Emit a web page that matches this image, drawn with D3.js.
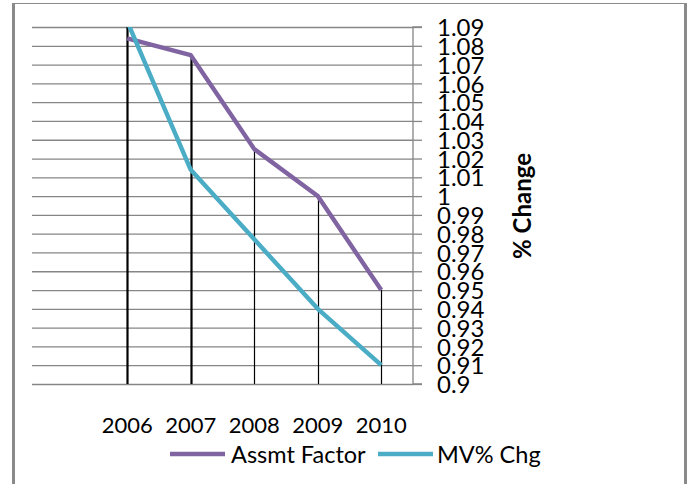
<!DOCTYPE html>
<html>
<head>
<meta charset="utf-8">
<script src="https://cdn.jsdelivr.net/npm/d3@7"></script>
<style>
  html, body { margin: 0; padding: 0; background: #ffffff; }
  svg { display: block; }
</style>
</head>
<body>
<svg id="chart" width="689" height="484"></svg>
<script>
// ---- data ----
const years = ["2006", "2007", "2008", "2009", "2010"];
const assmtFactor = [1.084, 1.075, 1.025, 1.0, 0.95];
const mvChange = [1.093, 1.014, 0.977, 0.940, 0.910];
const yTickValues = [0.9, 0.91, 0.92, 0.93, 0.94, 0.95, 0.96, 0.97, 0.98, 0.99, 1.0, 1.01, 1.02, 1.03, 1.04, 1.05, 1.06, 1.07, 1.08, 1.09];
const yTickLabels = ["0.9", "0.91", "0.92", "0.93", "0.94", "0.95", "0.96", "0.97", "0.98", "0.99", "1", "1.01", "1.02", "1.03", "1.04", "1.05", "1.06", "1.07", "1.08", "1.09"];
const seriesNames = ["Assmt Factor", "MV% Chg"];
const yAxisTitle = "% Change";

// ---- layout ----
const svg = d3.select("#chart");
const W = 689, H = 484;
const plot = { left: 32, right: 413, top: 27, bottom: 384 };
const colors = ["#8064A2", "#4BACC6"];
const font = "Lato, 'Open Sans', sans-serif";

// chart border (top, left, right only visible)
svg.append("rect").attr("x", 0).attr("y", 0).attr("width", W).attr("height", H).attr("fill", "#ffffff");
svg.append("line").attr("x1", 12).attr("x2", 686).attr("y1", 3.5).attr("y2", 3.5)
  .attr("stroke", "#8a8a8a").attr("stroke-width", 1);
svg.append("line").attr("x1", 13.5).attr("x2", 13.5).attr("y1", 3).attr("y2", H)
  .attr("stroke", "#8a8a8a").attr("stroke-width", 3);
svg.append("line").attr("x1", 685.5).attr("x2", 685.5).attr("y1", 3).attr("y2", H)
  .attr("stroke", "#8a8a8a").attr("stroke-width", 3);

// scales
const x = d3.scalePoint().domain([""].concat(years)).range([plot.left, plot.right]).padding(0.5);
const y = d3.scaleLinear().domain([0.9, 1.09]).range([plot.bottom, plot.top]);

// gridlines
const grid = svg.append("g").attr("transform", `translate(${plot.right},0)`)
  .call(d3.axisRight(y).tickValues(yTickValues).tickSize(-(plot.right - plot.left)).tickFormat(""));
grid.select(".domain").remove();
grid.selectAll(".tick line").attr("stroke", "#868686").attr("stroke-width", 1.3);

// right axis with ticks & labels
const labelMap = new Map(yTickValues.map((v, i) => [v, yTickLabels[i]]));
const yAxis = svg.append("g").attr("transform", `translate(${plot.right},0)`)
  .call(d3.axisRight(y).tickValues(yTickValues).tickSize(9).tickPadding(15)
    .tickFormat(d => labelMap.get(d)));
yAxis.select(".domain").attr("stroke", "#868686").attr("stroke-width", 1.3)
  .attr("d", `M9,${plot.top}H0V${plot.bottom}H9`);
yAxis.selectAll(".tick line").attr("stroke", "#868686").attr("stroke-width", 1.3);
yAxis.selectAll(".tick text").attr("fill", "#000").attr("font-family", font)
  .attr("font-size", 24).attr("dy", "0.36em");

// drop lines
const tops = years.map((yr, i) => Math.min(1.09, Math.max(assmtFactor[i], mvChange[i])));
svg.append("g").selectAll("line").data(years).join("line")
  .attr("x1", d => Math.round(x(d)) + 0.5).attr("x2", d => Math.round(x(d)) + 0.5)
  .attr("y1", (d, i) => y(tops[i])).attr("y2", y(0.9))
  .attr("stroke", "#000").attr("stroke-width", (d, i) => i < 2 ? 2.2 : 1.2);

// x labels
svg.append("g").selectAll("text").data(years).join("text")
  .attr("x", d => x(d)).attr("y", 433)
  .attr("text-anchor", "middle").attr("font-family", font).attr("font-size", 22)
  .attr("fill", "#000").text(d => d);

// series lines
svg.append("clipPath").attr("id", "plotclip").append("rect")
  .attr("x", plot.left).attr("y", plot.top).attr("width", plot.right - plot.left).attr("height", plot.bottom - plot.top);
const lineGen = d3.line().x((d, i) => x(years[i])).y(d => y(d));
const series = [assmtFactor, mvChange];
svg.append("g").attr("clip-path", "url(#plotclip)").selectAll("path").data(series).join("path")
  .attr("d", d => lineGen(d)).attr("fill", "none")
  .attr("stroke", (d, i) => colors[i]).attr("stroke-width", 4.4)
  .attr("stroke-linejoin", "round");

// y axis title
svg.append("text").attr("transform", "translate(531,206) rotate(-90)")
  .attr("text-anchor", "middle").attr("font-family", font).attr("font-weight", "bold")
  .attr("font-size", 24).attr("fill", "#000").text(yAxisTitle);

// legend
const legend = [
  { name: seriesNames[0], color: colors[0], x0: 170, tx: 231 },
  { name: seriesNames[1], color: colors[1], x0: 378, tx: 437 }
];
const lg = svg.append("g");
legend.forEach(l => {
  lg.append("line").attr("x1", l.x0).attr("x2", l.x0 + 55).attr("y1", 454).attr("y2", 454)
    .attr("stroke", l.color).attr("stroke-width", 4.4);
  lg.append("text").attr("x", l.tx).attr("y", 463).attr("font-family", font).attr("font-size", 23.5)
    .attr("fill", "#000").text(l.name);
});
</script>
</body>
</html>
